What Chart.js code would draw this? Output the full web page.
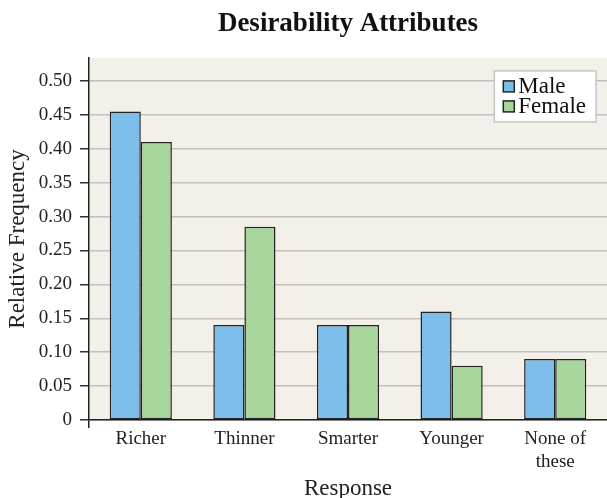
<!DOCTYPE html>
<html>
<head>
<meta charset="utf-8">
<script src="https://cdn.jsdelivr.net/npm/chart.js@4/dist/chart.umd.min.js"></script>
<style>
  html, body { margin: 0; padding: 0; background: #ffffff; }
  #wrap { width: 607px; height: 498px; }
</style>
</head>
<body>
<div id="wrap"><canvas id="desireChart" width="607" height="498"></canvas></div>
<script>
const categories = ["Richer", "Thinner", "Smarter", "Younger", ["None of", "these"]];
const maleValues = [0.455, 0.14, 0.14, 0.16, 0.09];
const femaleValues = [0.41, 0.285, 0.14, 0.08, 0.09];
const yTicks = [0, 0.05, 0.1, 0.15, 0.2, 0.25, 0.3, 0.35, 0.4, 0.45, 0.5];
const yTickLabels = ["0", "0.05", "0.10", "0.15", "0.20", "0.25", "0.30", "0.35", "0.40", "0.45", "0.50"];

const SERIF = '"Liberation Serif", "Times New Roman", serif';
const INK = "#222222";

/* ===============================
   PLOT BACKGROUND
================================ */
const plotBackground = {
  id: "plotBackground",
  beforeDraw(chart) {
    const { ctx, chartArea: a } = chart;
    ctx.save();
    ctx.fillStyle = "#f3f0ea";
    ctx.fillRect(a.left, a.top, a.right - a.left, a.bottom - a.top);
    ctx.restore();
  }
};

/* ===============================
   LEGEND BOX (inside plot, top right)
================================ */
const cornerLegend = {
  id: "cornerLegend",
  afterDraw(chart) {
    const { ctx, chartArea: a } = chart;
    const sets = chart.data.datasets;
    ctx.save();
    ctx.font = "23px " + SERIF;
    const textW = Math.max(...sets.map(d => ctx.measureText(d.label).width));
    const boxW = 24 + textW + 10;
    const boxH = 51;
    const x = a.right - 11 - boxW;
    const y = a.top + 13;

    ctx.fillStyle = "#ffffff";
    ctx.fillRect(x, y, boxW, boxH);
    ctx.strokeStyle = "#c6c6c6";
    ctx.lineWidth = 1.5;
    ctx.strokeRect(x, y, boxW, boxH);

    sets.forEach((d, i) => {
      const sy = y + 10 + i * 20;
      ctx.fillStyle = d.backgroundColor;
      ctx.fillRect(x + 9, sy, 11, 11);
      ctx.strokeStyle = INK;
      ctx.lineWidth = 1.5;
      ctx.strokeRect(x + 9, sy, 11, 11);
      ctx.fillStyle = "#111111";
      ctx.textBaseline = "alphabetic";
      ctx.textAlign = "left";
      ctx.fillText(d.label, x + 24, sy + 12);
    });
    ctx.restore();
  }
};

/* ===============================
   CHART
================================ */
const ctx = document.getElementById("desireChart").getContext("2d");

new Chart(ctx, {
  type: "bar",
  data: {
    labels: categories,
    datasets: [
      {
        label: "Male",
        data: maleValues,
        backgroundColor: "#7cbee9",
        borderColor: INK,
        borderWidth: 1.5,
        borderSkipped: false,
        categoryPercentage: 0.6,
        barPercentage: 1.0
      },
      {
        label: "Female",
        data: femaleValues,
        backgroundColor: "#a8d59b",
        borderColor: INK,
        borderWidth: 1.5,
        borderSkipped: false,
        categoryPercentage: 0.6,
        barPercentage: 1.0
      }
    ]
  },
  options: {
    responsive: false,
    animation: false,
    layout: { padding: 0 },
    plugins: {
      legend: { display: false },
      tooltip: { enabled: false },
      title: {
        display: true,
        text: "Desirability Attributes",
        fullSize: false,
        color: "#111111",
        font: { family: SERIF, size: 27, weight: "bold" },
        padding: { top: 8, bottom: 17.5 }
      }
    },
    scales: {
      x: {
        afterFit(scale) { scale.height = 78; },
        grid: {
          drawOnChartArea: false,
          tickLength: 8,
          lineWidth: 1.5,
          tickColor: c => (c.index === 0 ? INK : "rgba(0,0,0,0)")
        },
        border: { color: INK, width: 1.5 },
        ticks: {
          color: "#222222",
          padding: 0,
          font: { family: SERIF, size: 19 }
        },
        title: {
          display: true,
          text: "Response",
          color: "#222222",
          font: { family: SERIF, size: 23 },
          padding: { top: 0, bottom: -5 }
        }
      },
      y: {
        min: 0,
        max: 0.534,
        afterFit(scale) { scale.width = 89; },
        afterBuildTicks(scale) {
          scale.ticks = yTicks.map(v => ({ value: v }));
        },
        grid: {
          color: "#c0bfc3",
          lineWidth: 1.5,
          tickLength: 9,
          tickColor: "#333333"
        },
        border: { color: INK, width: 1.5 },
        ticks: {
          color: "#222222",
          padding: 8,
          font: { family: SERIF, size: 19 },
          callback: (v, i) => yTickLabels[i]
        },
        title: {
          display: true,
          text: "Relative Frequency",
          color: "#222222",
          font: { family: SERIF, size: 23 },
          padding: { top: 4, bottom: 0 }
        }
      }
    }
  },
  plugins: [plotBackground, cornerLegend]
});
</script>
</body>
</html>
